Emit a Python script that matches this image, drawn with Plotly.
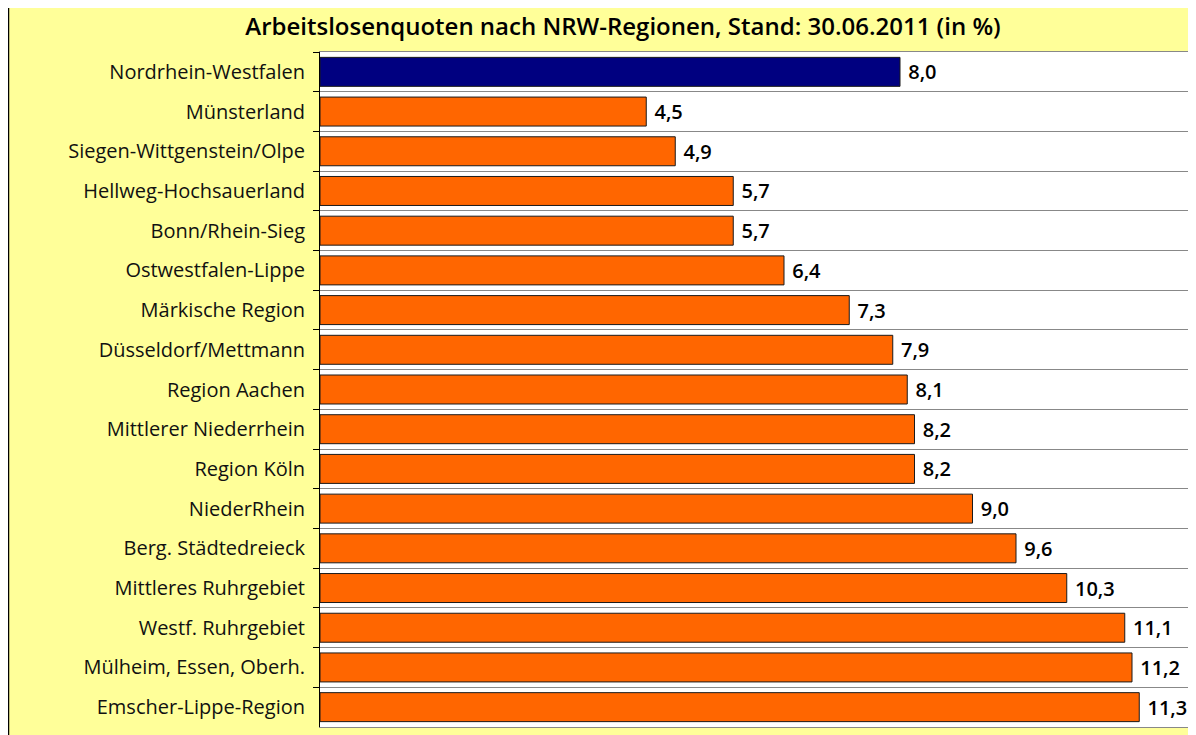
import plotly.graph_objects as go

regions = ["Nordrhein-Westfalen", "Münsterland", "Siegen-Wittgenstein/Olpe",
           "Hellweg-Hochsauerland", "Bonn/Rhein-Sieg", "Ostwestfalen-Lippe",
           "Märkische Region", "Düsseldorf/Mettmann", "Region Aachen",
           "Mittlerer Niederrhein", "Region Köln", "NiederRhein",
           "Berg. Städtedreieck", "Mittleres Ruhrgebiet", "Westf. Ruhrgebiet",
           "Mülheim, Essen, Oberh.", "Emscher-Lippe-Region"]
quoten = [8.0, 4.5, 4.9, 5.7, 5.7, 6.4, 7.3, 7.9, 8.1, 8.2, 8.2, 9.0, 9.6,
          10.3, 11.1, 11.2, 11.3]
colors = ["#000080"] + ["#FF6600"] * (len(regions) - 1)

title = "Arbeitslosenquoten nach NRW-Regionen, Stand: 30.06.2011 (in %)"
FONT = "Open Sans"

# page body has an 8px margin; work in screen pixels and shift
OFF = 8
W, H = 1196, 735
L, T = 320 - OFF, 52 - OFF
R = W - (1190 - OFF)
B = H - (727 - OFF)
pw, ph = W - L - R, H - T - B

def px_x(p):
    return (p - OFF - L) / pw

def px_y(p):
    return (H - B - (p - OFF)) / ph

fig = go.Figure(go.Bar(
    y=regions, x=quoten, orientation="h",
    marker=dict(color=colors, line=dict(color="#1a1a1a", width=1)),
    texttemplate=" %{x:.1f}", textposition="outside",
    textfont=dict(family=FONT, size=20, color="black", weight=600),
    cliponaxis=False,
))

fig.update_layout(
    width=W, height=H,
    margin=dict(l=L, r=R, t=T, b=B),
    paper_bgcolor="#FFFF99", plot_bgcolor="white",
    separators=",.",
    bargap=0.27,
    showlegend=False,
    title=dict(text=title, x=px_x(623), xanchor="center", xref="paper",
               y=1 - (27 - OFF) / H, yanchor="middle",
               font=dict(family=FONT, size=24, color="black", weight=600)),
    xaxis=dict(range=[0, 12], showgrid=False, showticklabels=False,
               zeroline=False, showline=True, linecolor="#888888", mirror=True,
               ticks=""),
    yaxis=dict(autorange="reversed", tickson="boundaries", showgrid=True,
               gridcolor="#888888", gridwidth=1, ticks="outside", ticklen=6,
               tickcolor="black", showline=True, linecolor="black",
               tickfont=dict(family=FONT, size=20, color="#111111"),
               ticklabelstandoff=10),
    shapes=[dict(type="rect", xref="paper", yref="paper",
                 x0=px_x(8.5), x1=px_x(1215), y0=px_y(760), y1=px_y(4.5),
                 line=dict(color="black", width=1.5), layer="below")],
)

fig.write_html("out.html")
